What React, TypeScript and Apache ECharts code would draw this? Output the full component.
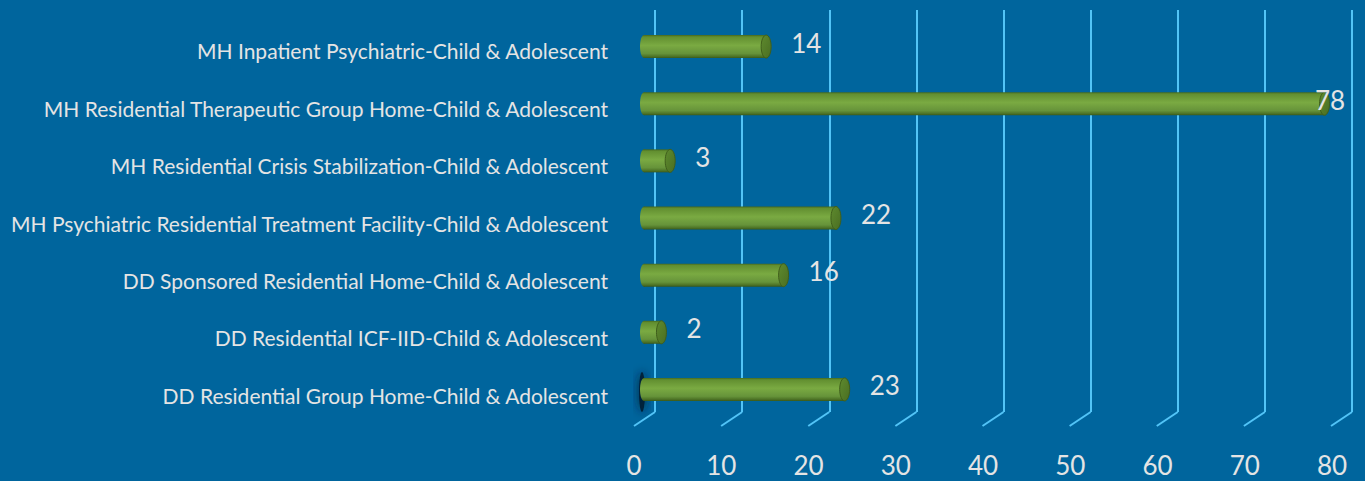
import React, { useEffect, useRef } from "react";
import * as echarts from "echarts";

const categories = [
  "MH Inpatient Psychiatric-Child & Adolescent",
  "MH Residential Therapeutic Group Home-Child & Adolescent",
  "MH Residential Crisis Stabilization-Child & Adolescent",
  "MH Psychiatric Residential Treatment Facility-Child & Adolescent",
  "DD Sponsored Residential Home-Child & Adolescent",
  "DD Residential ICF-IID-Child & Adolescent",
  "DD Residential Group Home-Child & Adolescent",
];
const values = [14, 78, 3, 22, 16, 2, 23];
const xTicks = [0, 10, 20, 30, 40, 50, 60, 70, 80];

const BG = "#00659D";
const GRID = "#52C4F7";
const TEXT = "#E4E4E4";
const FONT = "Lato, 'Open Sans', sans-serif";

export default function App() {
  const ref = useRef<HTMLDivElement>(null);
  useEffect(() => {
    if (!ref.current) return;
    const chart = echarts.init(ref.current, undefined, { renderer: "svg" });
    const xMin = xTicks[0];
    const xMax = xTicks[xTicks.length - 1];
    const step = xTicks[1] - xTicks[0];

    const bodyGrad = () =>
      new echarts.graphic.LinearGradient(0, 0, 0, 1, [
        { offset: 0, color: "#46691F" },
        { offset: 0.08, color: "#628F30" },
        { offset: 0.45, color: "#7AAA42" },
        { offset: 0.8, color: "#66933A" },
        { offset: 0.93, color: "#4D7326" },
        { offset: 1, color: "#3A5819" },
      ]);

    const option: any = {
      animation: false,
      backgroundColor: BG,
      graphic: [
        {
          type: "ellipse",
          z: 0,
          shape: { cx: 642, cy: 392, rx: 3, ry: 20 },
          style: { fill: "#04203A", shadowBlur: 10, shadowColor: "#021a30" },
        },
      ],
      grid: [
        { left: 655, right: 13, top: 10, bottom: 69 },
        { left: 644, right: 23, top: 18, bottom: 63 },
        { left: 634, right: 33, top: 22, bottom: 57 },
      ],
      xAxis: [
        {
          gridIndex: 0, type: "value", min: xMin, max: xMax, interval: step,
          axisLine: { show: false }, axisTick: { show: false }, axisLabel: { show: false },
          splitLine: { show: true, lineStyle: { color: GRID, width: 2 } },
        },
        {
          gridIndex: 1, type: "value", min: xMin, max: xMax, interval: step, show: false,
        },
        {
          gridIndex: 2, type: "value", min: xMin, max: xMax, interval: step,
          axisLine: { show: false }, axisTick: { show: false },
          splitLine: { show: false },
          axisLabel: { color: TEXT, fontSize: 26, lineHeight: 26, fontFamily: FONT, margin: 28 },
        },
      ],
      yAxis: [
        { gridIndex: 0, type: "value", min: 0, max: 1, show: false },
        { gridIndex: 1, type: "category", data: categories, inverse: true, show: false },
        {
          gridIndex: 2, type: "category", data: categories, inverse: true,
          axisLine: { show: false }, axisTick: { show: false },
          axisLabel: { color: TEXT, fontSize: 21, fontFamily: FONT, margin: 26 },
        },
      ],
      series: [
        {
          type: "custom",
          xAxisIndex: 0,
          yAxisIndex: 0,
          z: 1,
          data: xTicks.map((t) => [t, 0]),
          renderItem: (params: any, api: any) => {
            const p = api.coord([api.value(0), 0]);
            return {
              type: "line",
              shape: { x1: p[0], y1: p[1], x2: p[0] - 21, y2: p[1] + 14 },
              style: { stroke: GRID, lineWidth: 2 },
            };
          },
        },
        {
          type: "custom",
          xAxisIndex: 1,
          yAxisIndex: 1,
          z: 3,
          data: values.map((v, i) => [v, i]),
          encode: { x: 0, y: 1 },
          renderItem: (params: any, api: any) => {
            const v = api.value(0);
            const idx = api.value(1);
            const s = api.coord([0, idx]);
            const e = api.coord([v, idx]);
            const h = 23;
            const top = s[1] - h / 2;
            const w = api.getWidth();
            const labelX = Math.min(e[0] + 25, w - 50);
            return {
              type: "group",
              children: [
                {
                  type: "ellipse",
                  shape: { cx: s[0], cy: s[1], rx: 4, ry: h / 2 },
                  style: { fill: bodyGrad() },
                },
                {
                  type: "rect",
                  shape: { x: s[0], y: top, width: e[0] - s[0], height: h },
                  style: { fill: bodyGrad() },
                },
                {
                  type: "ellipse",
                  shape: { cx: e[0], cy: e[1], rx: 5, ry: h / 2 },
                  style: {
                    fill: new echarts.graphic.LinearGradient(0, 0, 1, 1, [
                      { offset: 0, color: "#5E8A2E" },
                      { offset: 1, color: "#4A6E22" },
                    ]),
                    stroke: "#3F5E1B",
                    lineWidth: 1,
                  },
                },
                {
                  type: "text",
                  x: labelX,
                  y: s[1] - 4,
                  style: {
                    text: String(v),
                    fill: TEXT,
                    fontSize: 26,
                    fontFamily: FONT,
                    align: "left",
                    verticalAlign: "middle",
                  },
                },
              ],
            };
          },
        },
      ],
    };
    chart.setOption(option);
    return () => chart.dispose();
  }, []);
  return (
    <div
      ref={ref}
      style={{ position: "fixed", left: 0, top: 0, width: 1365, height: 481 }}
    />
  );
}
